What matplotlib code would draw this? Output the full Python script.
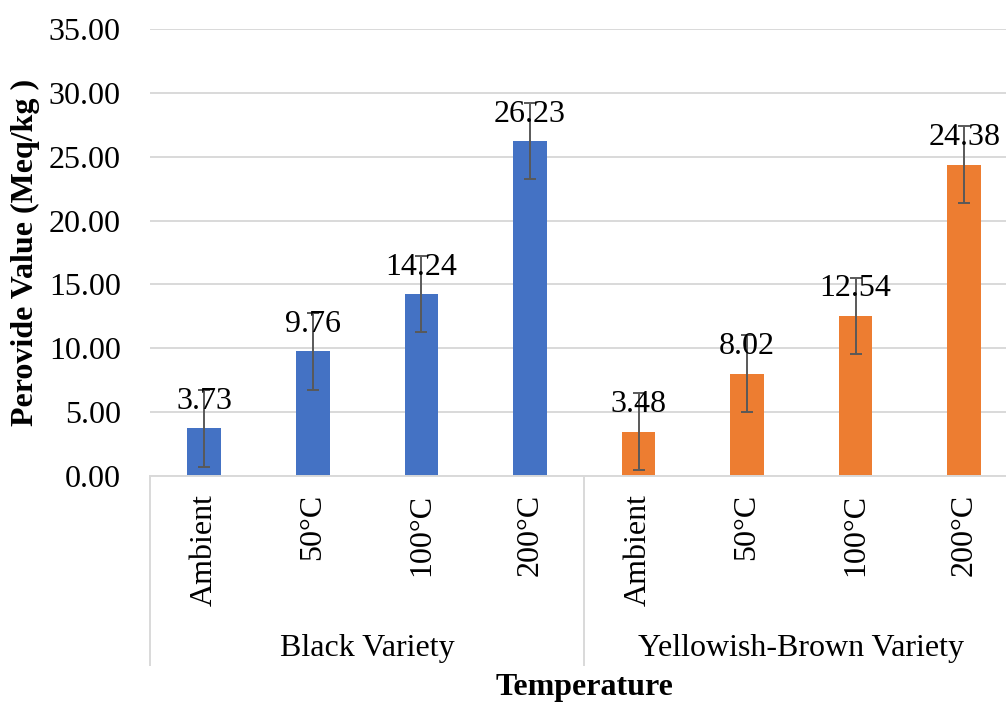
import matplotlib
matplotlib.use("Agg")
import matplotlib.pyplot as plt
import numpy as np

plt.rcParams["font.family"] = ["Liberation Serif", "DejaVu Serif"]

groups = ["Black Variety", "Yellowish-Brown Variety"]
temperatures = ["Ambient", "50°C", "100°C", "200°C"]
black_values = [3.73, 9.76, 14.24, 26.23]
yellow_values = [3.48, 8.02, 12.54, 24.38]
error = [3.0] * 8
group_colors = ["#4472C4", "#ED7D31"]

values = black_values + yellow_values
labels = temperatures * 2
colors = [group_colors[0]] * 4 + [group_colors[1]] * 4
x = np.arange(len(values))

FS = 23

fig = plt.figure(figsize=(10.06, 7.05), dpi=100)
ax = fig.add_axes([150 / 1006, 1 - 476 / 705, 856 / 1006, 447 / 705])

ax.yaxis.grid(True, color="#D9D9D9", linewidth=1.4)
ax.set_axisbelow(True)
ax.bar(x, values, width=0.31, color=colors, zorder=2)
ax.errorbar(x, values, yerr=error, fmt="none", ecolor="#595959",
            elinewidth=1.4, capsize=4.5, capthick=1.4, zorder=3)

for xi, v in zip(x, values):
    ax.annotate(f"{v:.2f}", (xi, v), xytext=(0, 14), textcoords="offset points",
                ha="center", va="baseline", fontsize=FS, zorder=4)

ax.set_ylim(0, 35)
ax.set_xlim(-0.5, 7.385)
ax.set_yticks(np.arange(0, 35.01, 5))
ax.set_yticklabels([f"{t:.2f}" for t in np.arange(0, 35.01, 5)])
ax.set_xticks(x)
ax.set_xticklabels(labels, rotation=90)
ax.tick_params(axis="y", length=0, pad=21, labelsize=FS)
ax.tick_params(axis="x", length=0, pad=13, labelsize=FS)

for s in ["top", "right", "left"]:
    ax.spines[s].set_visible(False)
ax.spines["bottom"].set_color("#D9D9D9")
ax.spines["bottom"].set_linewidth(1.4)

# group separators and group labels below the category labels
xt = ax.get_xaxis_transform()
for sep in [-0.5, 3.5, 7.5]:
    ax.plot([sep, sep], [0, -0.423], transform=xt, color="#D9D9D9",
            linewidth=1.4, clip_on=False)
for gi, g in enumerate(groups):
    ax.text(gi * 4 + 1.5, -0.385, g, transform=xt, ha="center", va="center",
            fontsize=FS)

fig.text(585 / 1006, 1 - 688 / 705, "Temperature", ha="center", va="center",
         fontsize=FS, fontweight="bold")
fig.text(25 / 1006, 1 - 252 / 705, "Perovide Value (Meq/kg )", ha="center",
         va="center", rotation=90, fontsize=FS, fontweight="bold")

fig.savefig("out.png", dpi=100)
